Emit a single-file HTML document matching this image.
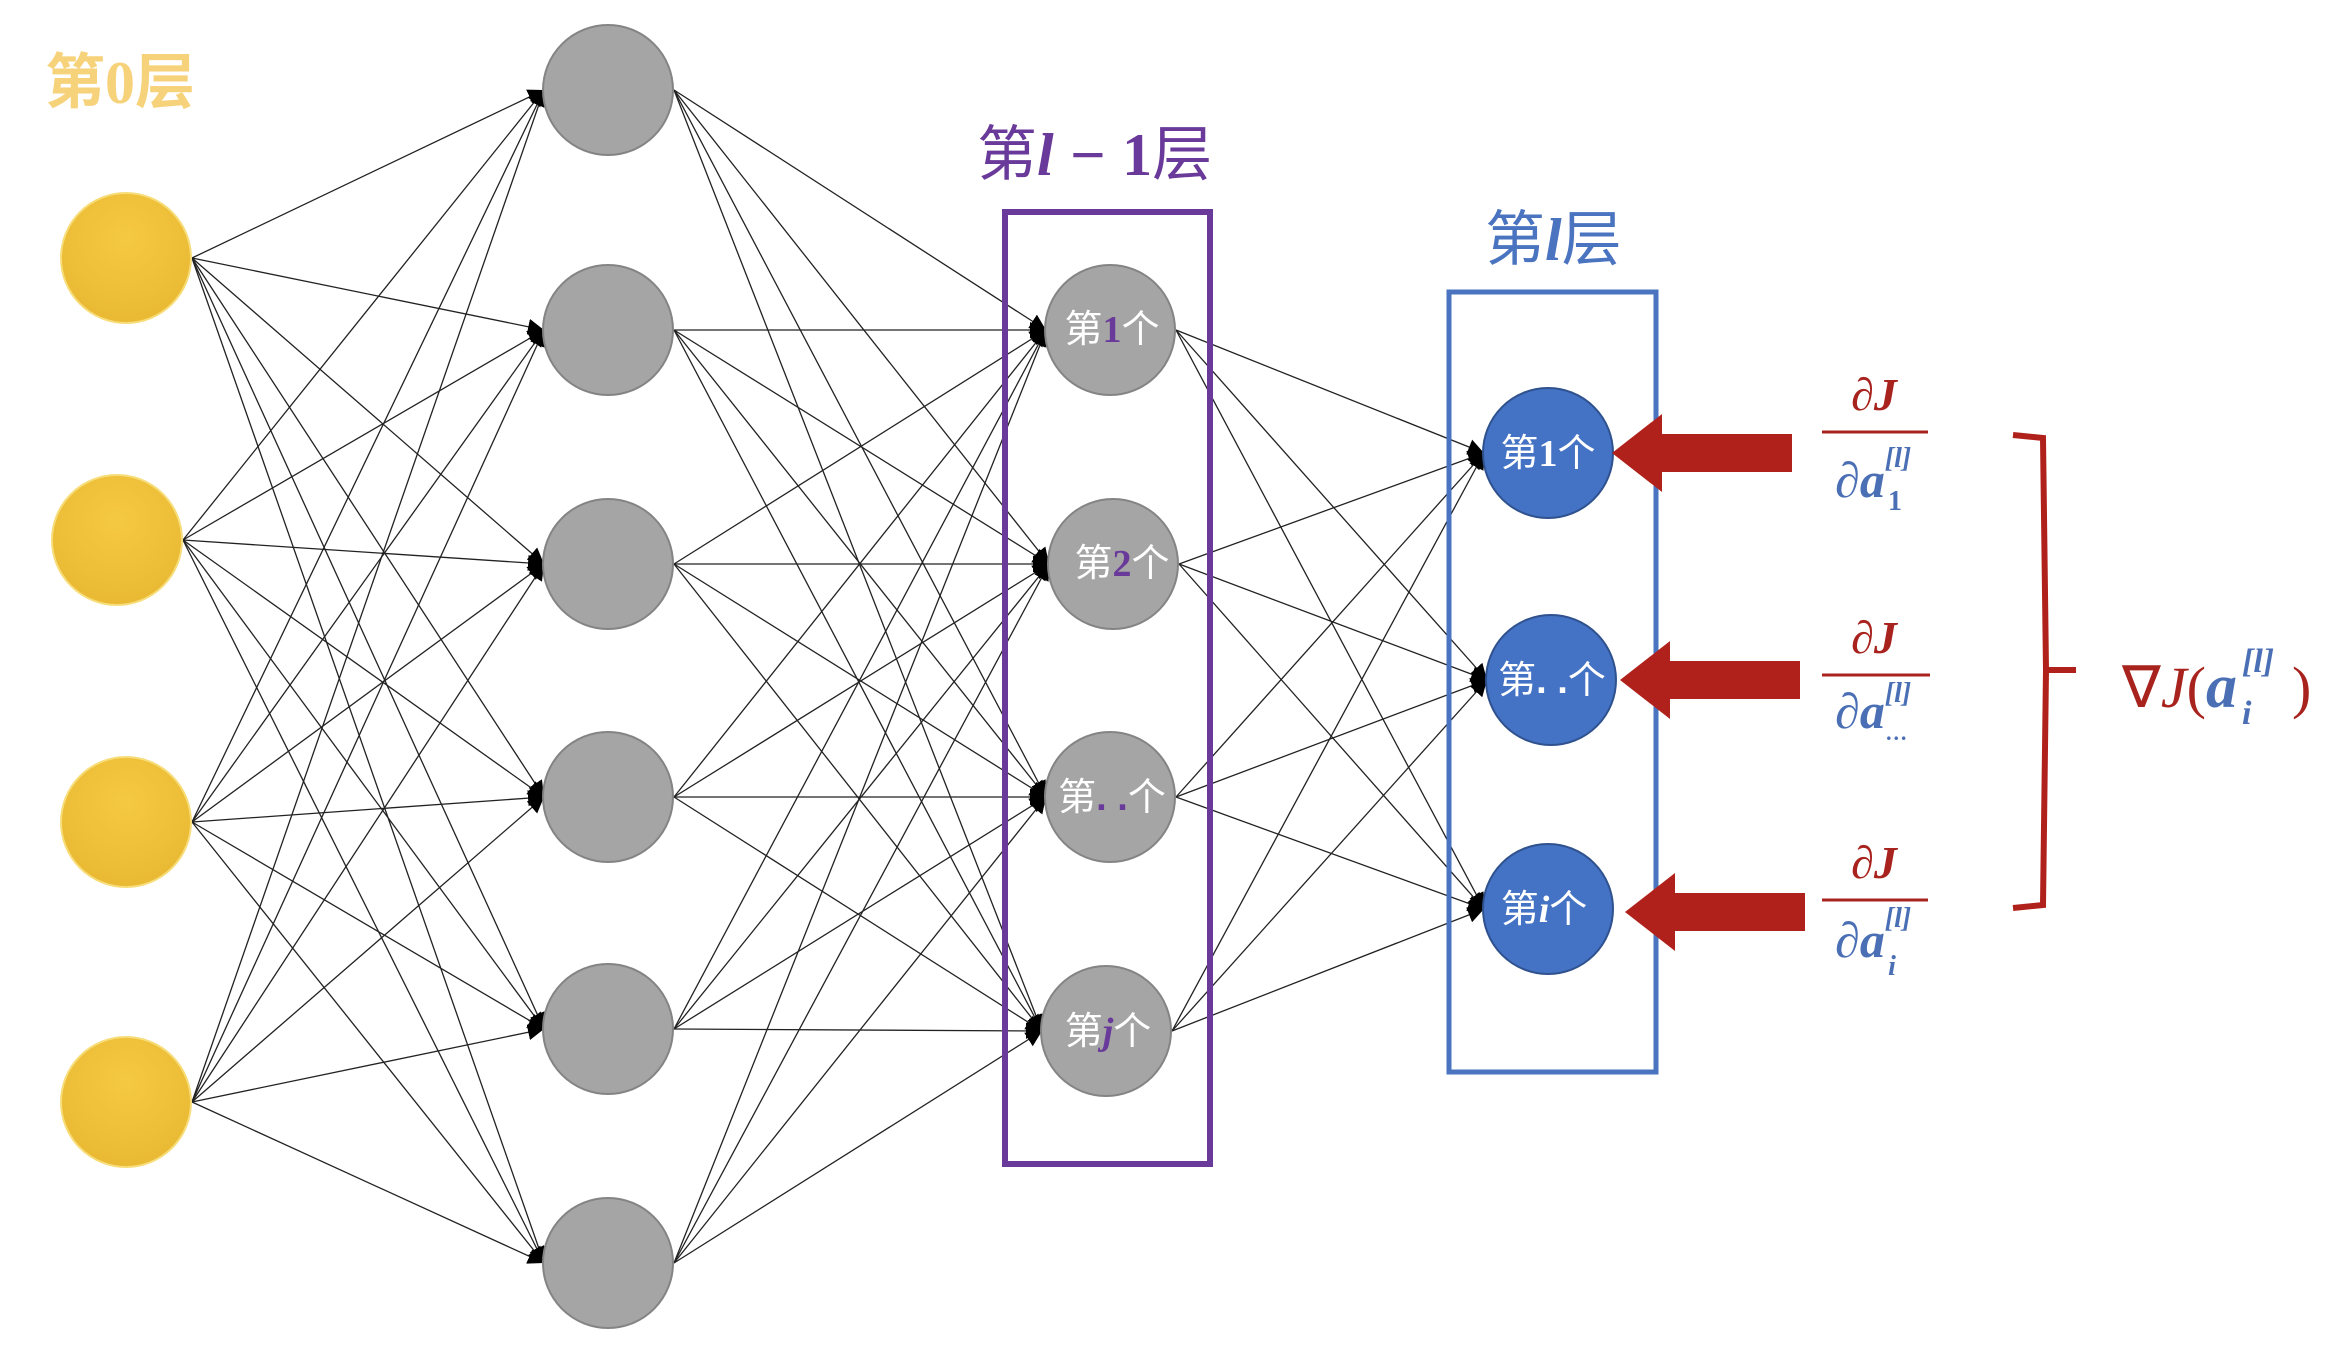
<!DOCTYPE html>
<html><head><meta charset="utf-8"><style>
html,body{margin:0;padding:0;background:#fff;}
svg{display:block;}
</style></head><body>
<svg id="s" width="2350" height="1352" viewBox="0 0 2350 1352" xmlns="http://www.w3.org/2000/svg" font-family="'Liberation Sans','Noto Sans CJK SC',sans-serif">
<defs>
<marker id="ah" viewBox="0 0 10 10" refX="10" refY="5" markerWidth="16" markerHeight="16" markerUnits="userSpaceOnUse" orient="auto"><path d="M0,0 L10,5 L0,10 z" fill="#000"/></marker>
<radialGradient id="yg" cx="50%" cy="35%" r="65%"><stop offset="0" stop-color="#f6c943"/><stop offset="1" stop-color="#e9b933"/></radialGradient>
</defs>
<g id="lines" stroke="#222" stroke-width="1.3" fill="none"></g>

<g fill="url(#yg)" stroke="#f7dd7a" stroke-width="2">
<ellipse cx="126" cy="258" rx="65" ry="65"/>
<ellipse cx="117" cy="540" rx="65" ry="65"/>
<ellipse cx="126" cy="822" rx="65" ry="65"/>
<ellipse cx="126" cy="1102" rx="65" ry="65"/>
</g>
<g fill="#a5a5a5" stroke="#848484" stroke-width="2">
<ellipse cx="608" cy="90" rx="65" ry="65"/>
<ellipse cx="608" cy="330" rx="65" ry="65"/>
<ellipse cx="608" cy="564" rx="65" ry="65"/>
<ellipse cx="608" cy="797" rx="65" ry="65"/>
<ellipse cx="608" cy="1029" rx="65" ry="65"/>
<ellipse cx="608" cy="1263" rx="65" ry="65"/>
</g>
<g fill="#a5a5a5" stroke="#848484" stroke-width="2">
<ellipse cx="1110" cy="330" rx="65" ry="65"/>
<ellipse cx="1113" cy="564" rx="65" ry="65"/>
<ellipse cx="1110" cy="797" rx="65" ry="65"/>
<ellipse cx="1106" cy="1031" rx="65" ry="65"/>
</g>
<g fill="#4472c4" stroke="#2f528f" stroke-width="2">
<ellipse cx="1548" cy="453" rx="65" ry="65"/>
<ellipse cx="1551" cy="680" rx="65" ry="65"/>
<ellipse cx="1548" cy="909" rx="65" ry="65"/>
</g>

<rect x="1005" y="212" width="205" height="952" fill="none" stroke="#6a3a9a" stroke-width="6"/>
<rect x="1449" y="292" width="207" height="780" fill="none" stroke="#4a73c0" stroke-width="5"/>

<text x="45" y="103" font-size="60" fill="#f6d27a" font-weight="bold">第<tspan font-family="'Liberation Serif',serif">0</tspan>层</text>
<text x="977" y="175" font-size="60" fill="#6a3a9a">第<tspan font-family="'Liberation Serif',serif" font-style="italic" font-weight="bold">l</tspan> − <tspan font-family="'Liberation Serif',serif" font-weight="bold">1</tspan>层</text>
<text x="1485" y="260" font-size="60" fill="#4a73c0">第<tspan font-family="'Liberation Serif',serif" font-style="italic" font-weight="bold">l</tspan>层</text>

<g font-size="38" fill="#fff" text-anchor="middle">
<text x="1112" y="342">第<tspan fill="#6a3a9a" font-weight="bold" font-family="'Liberation Serif',serif">1</tspan>个</text>
<text x="1122" y="576">第<tspan fill="#6a3a9a" font-weight="bold" font-family="'Liberation Serif',serif">2</tspan>个</text>
<text x="1112" y="810">第<tspan fill="#6a3a9a" font-weight="bold">. .</tspan>个</text>
<text x="1108" y="1044">第<tspan fill="#6a3a9a" font-weight="bold" font-style="italic" font-family="'Liberation Serif',serif">j</tspan>个</text>
<text x="1548" y="466">第<tspan font-weight="bold" font-family="'Liberation Serif',serif">1</tspan>个</text>
<text x="1552" y="693">第<tspan font-weight="bold">. .</tspan>个</text>
<text x="1544" y="922">第<tspan font-weight="bold" font-style="italic" font-family="'Liberation Serif',serif">i</tspan>个</text>
</g>

<g fill="#b0211b">
<path d="M1612,453 L1662,414 L1662,434 L1792,434 L1792,472 L1662,472 L1662,492 z"/>
<path d="M1620,680 L1670,641 L1670,661 L1800,661 L1800,699 L1670,699 L1670,719 z"/>
<path d="M1625,912 L1675,873 L1675,893 L1805,893 L1805,931 L1675,931 L1675,951 z"/>
</g>

<g font-family="'Liberation Serif',serif" font-weight="bold" font-style="italic" text-anchor="middle">
<text x="1874" y="410" font-size="46" fill="#a8231e">∂J</text>
<line x1="1822" y1="432" x2="1928" y2="432" stroke="#a8231e" stroke-width="3"/>
<text x="1860" y="497" font-size="50" fill="#4a6fb5">∂a</text>
<text x="1898" y="467" font-size="28" fill="#4a6fb5">[l]</text>
<text x="1895" y="510" font-size="28" fill="#4a6fb5" font-style="normal">1</text>

<text x="1874" y="653" font-size="46" fill="#a8231e">∂J</text>
<line x1="1822" y1="675" x2="1930" y2="675" stroke="#a8231e" stroke-width="3"/>
<text x="1860" y="728" font-size="50" fill="#4a6fb5">∂a</text>
<text x="1898" y="702" font-size="28" fill="#4a6fb5">[l]</text>
<text x="1897" y="740" font-size="22" fill="#4a6fb5">…</text>

<text x="1874" y="878" font-size="46" fill="#a8231e">∂J</text>
<line x1="1822" y1="900" x2="1928" y2="900" stroke="#a8231e" stroke-width="3"/>
<text x="1860" y="957" font-size="50" fill="#4a6fb5">∂a</text>
<text x="1898" y="927" font-size="28" fill="#4a6fb5">[l]</text>
<text x="1892" y="975" font-size="28" fill="#4a6fb5">i</text>
</g>

<path d="M2013,435 L2043,438 L2046,670 L2076,670 M2046,670 L2043,905 L2013,908" fill="none" stroke="#b0211b" stroke-width="6"/>

<g font-family="'Liberation Serif',serif">
<text x="2122" y="707" font-size="58" fill="#a8231e">∇<tspan font-style="italic">J</tspan>(</text>
<text x="2206" y="707" font-size="62" fill="#4a6fb5" font-weight="bold" font-style="italic">a</text>
<text x="2242" y="672" font-size="34" fill="#4a6fb5" font-weight="bold" font-style="italic">[l]</text>
<text x="2242" y="724" font-size="34" fill="#4a6fb5" font-weight="bold" font-style="italic">i</text>
<text x="2292" y="707" font-size="58" fill="#a8231e">)</text>
</g>
</svg>
<script>
(function(){
var g=document.getElementById('lines');
var L0=[[126,258],[117,540],[126,822],[126,1102]];
var L1=[[608,90],[608,330],[608,564],[608,797],[608,1029],[608,1263]];
var L2=[[1110,330],[1113,564],[1110,797],[1106,1031]];
var L3=[[1548,453],[1551,680],[1548,909]];
function conn(A,B){
 A.forEach(function(a){B.forEach(function(b){
  var l=document.createElementNS('http://www.w3.org/2000/svg','line');
  l.setAttribute('x1',a[0]+66);l.setAttribute('y1',a[1]);
  l.setAttribute('x2',b[0]-64);l.setAttribute('y2',b[1]);
  l.setAttribute('marker-end','url(#ah)');
  g.appendChild(l);
 });});
}
conn(L0,L1);conn(L1,L2);conn(L2,L3);
})();
</script>
</body></html>
